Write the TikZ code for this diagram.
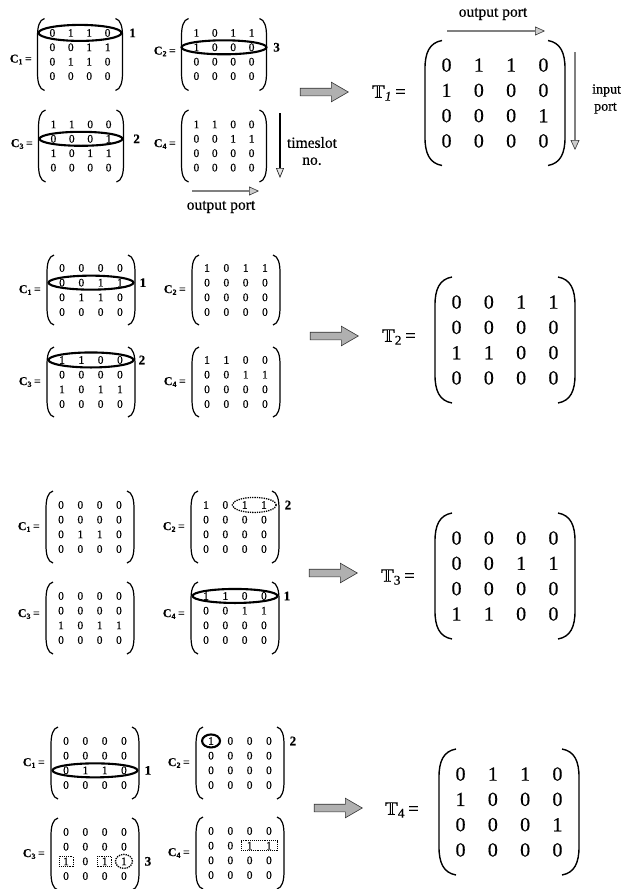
\documentclass[tikz,border=0pt]{standalone}
\usepackage{fontspec}
\setmainfont{Liberation Serif}[FakeBold=0.4]
\usetikzlibrary{matrix,shapes.geometric,shapes.arrows,arrows.meta,calc}

% double-struck T: a bold serif T with a hairline cut through its stem
\newcommand\dT{\makebox[0pt][l]{\textbf{T}}\makebox[0.667em][l]{\kern0.318em\textcolor{white}{\rule[0.03em]{0.035em}{0.58em}}}}

% rounded matrix brackets around matrix node #2
% #3 half width, #4 half height, #5 horizontal hook, #6 vertical hook
\newcommand\drawparens[6][parenline]{%
  \begin{scope}[shift={(#2.center)}]
    \draw[#1] (-#3+#5,-#4) .. controls (-#3+0.25*#5,-#4+0.08*#6) and (-#3,-#4+0.45*#6) .. (-#3,-#4+#6)
      -- (-#3,#4-#6) .. controls (-#3,#4-0.45*#6) and (-#3+0.25*#5,#4-0.08*#6) .. (-#3+#5,#4);
    \draw[#1] (#3-#5,-#4) .. controls (#3-0.25*#5,-#4+0.08*#6) and (#3,-#4+0.45*#6) .. (#3,-#4+#6)
      -- (#3,#4-#6) .. controls (#3,#4-0.45*#6) and (#3-0.25*#5,#4-0.08*#6) .. (#3-#5,#4);
  \end{scope}}

\tikzset{
  smallmat/.style={matrix of nodes, inner sep=0pt, column sep=0pt, row sep=0pt,
    nodes={font=\fontsize{11.5}{12}\selectfont, minimum width=19.3pt, minimum height=14.7pt,
      inner sep=0pt, anchor=center}},
  narrowmat/.style={smallmat, nodes={minimum width=18.4pt, minimum height=14.4pt}},
  bigmat/.style={matrix of nodes, inner sep=0pt, column sep=0pt, row sep=0pt,
    nodes={font=\fontsize{20}{20}\selectfont, minimum width=32.3pt, minimum height=25.3pt,
      inner sep=0pt, anchor=center}},
  parenline/.style={line width=1.2pt},
  bigparen/.style={line width=1.4pt},
  ring/.style={ellipse, draw, line width=2.1pt, inner sep=0pt},
  dotring/.style={ellipse, draw, densely dotted, line width=1.3pt, inner sep=0pt},
  dotbox/.style={rectangle, draw, densely dotted, line width=0.9pt, inner sep=0pt},
  clabel/.style={font=\fontsize{12}{12}\selectfont, anchor=east, inner sep=0pt},
  rownum/.style={font=\bfseries\fontsize{13}{13}\selectfont, inner sep=0pt},
  tlabel/.style={font=\fontsize{19}{19}\selectfont, inner sep=0pt},
  note/.style={font=\fontsize{15.5}{17}\selectfont, inner sep=0pt},
  bigarrow/.style={single arrow, fill=gray!62, draw=gray!40!black, line width=0.6pt,
    minimum height=48pt, minimum width=19pt, inner sep=3.5pt,
    single arrow head extend=6pt, single arrow tip angle=60, single arrow head indent=0pt},
  portarrow/.style={line width=2.6pt, draw=black!50,
    -{Triangle[length=10pt,width=9pt,fill=gray!40,color=gray!40!black,line width=0.6pt]}},
  slotarrow/.style={line width=1.2pt,
    -{Triangle[length=10pt,width=8pt,fill=gray!20,color=gray!30!black,line width=0.7pt]}},
}

\newcommand\Clab[1]{\textbf{C}\textsubscript{\textbf{#1}}\,=}

\begin{document}
\begin{tikzpicture}[x=1pt,y=-1pt]
\useasboundingbox (0,0) rectangle (622,889);
\fill[white] (0,0) rectangle (622,889);

% ---------------- step 1 ----------------
\matrix (m11) at (80,54.5) [narrowmat] {0 & 1 & 1 & 0\\ 0 & 0 & 1 & 1\\ 0 & 1 & 1 & 0\\ 0 & 0 & 0 & 0\\};
\matrix (m12) at (224,54.5) [narrowmat] {1 & 0 & 1 & 1\\ 1 & 0 & 0 & 0\\ 0 & 0 & 0 & 0\\ 0 & 0 & 0 & 0\\};
\matrix (m13) at (81,146) [narrowmat] {1 & 1 & 0 & 0\\ 0 & 0 & 0 & 1\\ 1 & 0 & 1 & 1\\ 0 & 0 & 0 & 0\\};
\matrix (m14) at (224,146) [narrowmat] {1 & 1 & 0 & 0\\ 0 & 0 & 1 & 1\\ 0 & 0 & 0 & 0\\ 0 & 0 & 0 & 0\\};
\foreach \m in {m11,m12,m13,m14} {\drawparens{\m}{42.5}{36}{7}{18}}
\node[clabel] (c11) at ([xshift=-48pt,yshift=-5pt]m11.center) {\Clab{1}};
\node[clabel] (c12) at ([xshift=-48pt,yshift=3pt]m12.center) {\Clab{2}};
\node[clabel] (c13) at ([xshift=-48pt,yshift=2pt]m13.center) {\Clab{3}};
\node[clabel] (c14) at ([xshift=-48pt,yshift=2pt]m14.center) {\Clab{4}};
\node[ring, minimum width=83pt, minimum height=16pt] (e11) at ($(m11-1-1)!0.5!(m11-1-4)$) {};
\node[ring, minimum width=85pt, minimum height=14pt] (e12) at ($(m12-2-1)!0.5!(m12-2-4)$) {};
\node[ring, minimum width=83pt, minimum height=14pt] (e13) at ($(m13-2-1)!0.5!(m13-2-4)$) {};
\node[rownum] (n11) at ([xshift=25pt]m11-1-4.center) {1};
\node[rownum] (n12) at ([xshift=25pt]m12-2-4.center) {3};
\node[rownum] (n13) at ([xshift=28pt]m13-2-4.center) {2};

\coordinate (ts0) at (280,113);
\coordinate (ts1) at (280,178);
\draw[slotarrow] (ts0) -- (ts1);
\node[note, align=center] (tsl) at (312,151) {timeslot\\no.};
\coordinate (op0) at (192,191);
\coordinate (op1) at (259,191);
\draw[portarrow] (op0) -- (op1);
\node[note] (opl) at (221,207) {output port};

\node[bigarrow] (a1) at (321,92) {};
\node[tlabel] (T1) at (389,93) {\dT\textsubscript{\textit{1}}\,=};
\matrix (t1) at (495,103) [bigmat]
  {0 & 1 & 1 & 0\\ 1 & 0 & 0 & 0\\ 0 & 0 & 0 & 1\\ 0 & 0 & 0 & 0\\};
\drawparens[bigparen]{t1}{70}{62.5}{17}{28}
\node[note] (top) at (493,14) {output port};
\coordinate (tp0) at (447,31);
\coordinate (tp1) at (545,31);
\draw[portarrow] (tp0) -- (tp1);
\coordinate (ip0) at (575,52);
\coordinate (ip1) at (575,150);
\draw[portarrow] (ip0) -- (ip1);
\node[note, font=\fontsize{14}{17}\selectfont, align=left, anchor=west] (ipl) at (592,99) {input\\\hspace{2pt}port};

% ---------------- step 2 ----------------
\matrix (m21) at (91,290) [smallmat] {0 & 0 & 0 & 0\\ 0 & 0 & 1 & 1\\ 0 & 1 & 1 & 0\\ 0 & 0 & 0 & 0\\};
\matrix (m22) at (236,290) [smallmat] {1 & 0 & 1 & 1\\ 0 & 0 & 0 & 0\\ 0 & 0 & 0 & 0\\ 0 & 0 & 0 & 0\\};
\matrix (m23) at (91,382) [smallmat] {1 & 1 & 0 & 0\\ 0 & 0 & 0 & 0\\ 1 & 0 & 1 & 1\\ 0 & 0 & 0 & 0\\};
\matrix (m24) at (236,382) [smallmat] {1 & 1 & 0 & 0\\ 0 & 0 & 1 & 1\\ 0 & 0 & 0 & 0\\ 0 & 0 & 0 & 0\\};
\foreach \m in {m21,m22,m23,m24} {\drawparens{\m}{44}{35}{7}{18}}
\node[clabel] (c21) at ([xshift=-50pt]m21.center) {\Clab{1}};
\node[clabel] (c22) at ([xshift=-50pt]m22.center) {\Clab{2}};
\node[clabel] (c23) at ([xshift=-50pt]m23.center) {\Clab{3}};
\node[clabel] (c24) at ([xshift=-50pt]m24.center) {\Clab{4}};
\node[ring, minimum width=85pt, minimum height=14pt] (e21) at ($(m21-2-1)!0.5!(m21-2-4)$) {};
\node[ring, minimum width=85pt, minimum height=15pt] (e23) at ($(m23-1-1)!0.5!(m23-1-4)$) {};
\node[rownum] (n21) at ([xshift=23pt]m21-2-4.center) {1};
\node[rownum] (n23) at ([xshift=22pt]m23-1-4.center) {2};

\node[bigarrow] (a2) at (331,336) {};
\node[tlabel] (T2) at (399,337) {\dT\textsubscript{2}\,=};
\matrix (t2) at (505,340) [bigmat] {0 & 0 & 1 & 1\\ 0 & 0 & 0 & 0\\ 1 & 1 & 0 & 0\\ 0 & 0 & 0 & 0\\};
\drawparens[bigparen]{t2}{70}{63}{17}{28}

% ---------------- step 3 ----------------
\matrix (m31) at (90,527) [smallmat] {0 & 0 & 0 & 0\\ 0 & 0 & 0 & 0\\ 0 & 1 & 1 & 0\\ 0 & 0 & 0 & 0\\};
\matrix (m32) at (235,527) [smallmat] {1 & 0 & 1 & 1\\ 0 & 0 & 0 & 0\\ 0 & 0 & 0 & 0\\ 0 & 0 & 0 & 0\\};
\matrix (m33) at (90,618) [smallmat] {0 & 0 & 0 & 0\\ 0 & 0 & 0 & 0\\ 1 & 0 & 1 & 1\\ 0 & 0 & 0 & 0\\};
\matrix (m34) at (235,618) [smallmat] {1 & 1 & 0 & 0\\ 0 & 0 & 1 & 1\\ 0 & 0 & 0 & 0\\ 0 & 0 & 0 & 0\\};
\foreach \m in {m31,m32,m33,m34} {\drawparens{\m}{44}{36}{7}{18}}
\node[clabel] (c31) at ([xshift=-50pt]m31.center) {\Clab{1}};
\node[clabel] (c32) at ([xshift=-50pt]m32.center) {\Clab{2}};
\node[clabel] (c33) at ([xshift=-50pt,yshift=4pt]m33.center) {\Clab{3}};
\node[clabel] (c34) at ([xshift=-50pt,yshift=4pt]m34.center) {\Clab{4}};
\node[dotring, minimum width=44pt, minimum height=15pt] (e32) at ($(m32-1-3)!0.5!(m32-1-4)$) {};
\node[ring, minimum width=85pt, minimum height=14pt] (e34) at ($(m34-1-1)!0.5!(m34-1-4)$) {};
\node[rownum] (n32) at ([xshift=24pt]m32-1-4.center) {2};
\node[rownum] (n34) at ([xshift=23pt]m34-1-4.center) {1};

\node[bigarrow] (a3) at (330,573) {};
\node[tlabel] (T3) at (398,577) {\dT\textsubscript{3}\,=};
\matrix (t3) at (505,576) [bigmat] {0 & 0 & 0 & 0\\ 0 & 0 & 1 & 1\\ 0 & 0 & 0 & 0\\ 1 & 1 & 0 & 0\\};
\drawparens[bigparen]{t3}{70}{63}{17}{28}

% ---------------- step 4 ----------------
\matrix (m41) at (95,763) [smallmat] {0 & 0 & 0 & 0\\ 0 & 0 & 0 & 0\\ 0 & 1 & 1 & 0\\ 0 & 0 & 0 & 0\\};
\matrix (m42) at (240,763) [smallmat] {1 & 0 & 0 & 0\\ 0 & 0 & 0 & 0\\ 0 & 0 & 0 & 0\\ 0 & 0 & 0 & 0\\};
\matrix (m43) at (95,854) [smallmat] {0 & 0 & 0 & 0\\ 0 & 0 & 0 & 0\\ 1 & 0 & 1 & 1\\ 0 & 0 & 0 & 0\\};
\matrix (m44) at (240,853) [smallmat] {0 & 0 & 0 & 0\\ 0 & 0 & 1 & 1\\ 0 & 0 & 0 & 0\\ 0 & 0 & 0 & 0\\};
\foreach \m in {m41,m42,m43,m44} {\drawparens{\m}{44}{36}{7}{18}}
\node[clabel] (c41) at ([xshift=-50pt]m41.center) {\Clab{1}};
\node[clabel] (c42) at ([xshift=-50pt]m42.center) {\Clab{2}};
\node[clabel] (c43) at ([xshift=-50pt]m43.center) {\Clab{3}};
\node[clabel] (c44) at ([xshift=-50pt]m44.center) {\Clab{4}};
\node[ring, minimum width=85pt, minimum height=14pt] (e41) at ($(m41-3-1)!0.5!(m41-3-4)$) {};
\node[ring, minimum width=18pt, minimum height=13pt] (e42) at (m42-1-1) {};
\node[dotbox, minimum width=14pt, minimum height=10pt] (b431) at (m43-3-1) {};
\node[dotbox, minimum width=14pt, minimum height=10pt] (b433) at (m43-3-3) {};
\node[dotring, minimum width=17pt, minimum height=14pt] (e434) at (m43-3-4) {};
\node[dotbox, minimum width=36pt, minimum height=10pt] (b44) at ($(m44-2-3)!0.5!(m44-2-4)$) {};
\node[rownum] (n41) at ([xshift=24pt]m41-3-4.center) {1};
\node[rownum] (n42) at ([xshift=24pt]m42-1-4.center) {2};
\node[rownum] (n43) at ([xshift=24pt]m43-3-4.center) {3};

\node[bigarrow] (a4) at (335,808) {};
\node[tlabel] (T4) at (402,810) {\dT\textsubscript{4}\,=};
\matrix (t4) at (509,812) [bigmat] {0 & 1 & 1 & 0\\ 1 & 0 & 0 & 0\\ 0 & 0 & 0 & 1\\ 0 & 0 & 0 & 0\\};
\drawparens[bigparen]{t4}{70}{63}{17}{28}
\end{tikzpicture}
\end{document}
